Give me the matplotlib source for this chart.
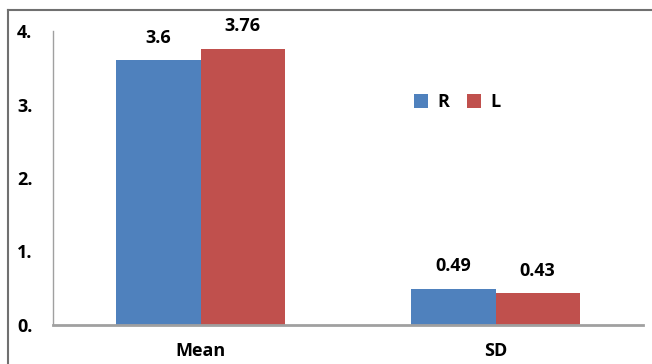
import matplotlib.pyplot as plt
from matplotlib.lines import Line2D
import numpy as np

categories = ["Mean", "SD"]
r_values = [3.6, 0.49]
l_values = [3.76, 0.43]
y_ticks = [0, 1, 2, 3, 4]
y_tick_labels = ["0.", "1.", "2.", "3.", "4."]

plt.rcParams["font.family"] = ["Open Sans", "DejaVu Sans"]
plt.rcParams["font.weight"] = "bold"

fig = plt.figure(figsize=(6.52, 3.64), dpi=100)
ax = fig.add_axes([53 / 652, 39 / 364, 590 / 652, 294 / 364])

x = np.arange(len(categories))
w = 0.285
bars_r = ax.bar(x - w / 2, r_values, w, color="#4F81BD", label="R")
bars_l = ax.bar(x + w / 2, l_values, w, color="#C0504D", label="L")

for bars, vals in ((bars_r, r_values), (bars_l, l_values)):
    for b, v in zip(bars, vals):
        ax.annotate(f"{v:g}", (b.get_x() + b.get_width() / 2, v),
                    xytext=(0, 10), textcoords="offset points",
                    ha="center", va="bottom", fontsize=13, fontweight="bold")

ax.set_xlim(-0.5, 1.5)
ax.set_ylim(0, 4)
ax.set_yticks(y_ticks)
ax.set_yticklabels(y_tick_labels, ha="left")
ax.set_xticks(x)
ax.set_xticklabels(categories)
ax.tick_params(axis="y", length=0, pad=26, labelsize=13)
ax.tick_params(axis="x", length=0, pad=12, labelsize=13)

for side in ("top", "right"):
    ax.spines[side].set_visible(False)
ax.spines["left"].set_color("#A0A0A0")
ax.spines["left"].set_linewidth(1.0)
ax.spines["bottom"].set_color("#A0A0A0")
ax.spines["bottom"].set_linewidth(2.0)

ax.legend(loc="center", bbox_to_anchor=(0.685, 0.758), ncol=2, frameon=False,
          handlelength=0.8, handleheight=0.8, handletextpad=0.5,
          columnspacing=1.0, prop={"size": 13, "weight": "bold"})

# outer frame
fig.add_artist(Line2D([8 / 652, 1.0], [1 - 9.5 / 364, 1 - 9.5 / 364],
                      transform=fig.transFigure, color="#707070", lw=1.5))
fig.add_artist(Line2D([8 / 652, 8 / 652], [0, 1 - 9.5 / 364],
                      transform=fig.transFigure, color="#707070", lw=1.5))

fig.savefig("out.png", dpi=100)
